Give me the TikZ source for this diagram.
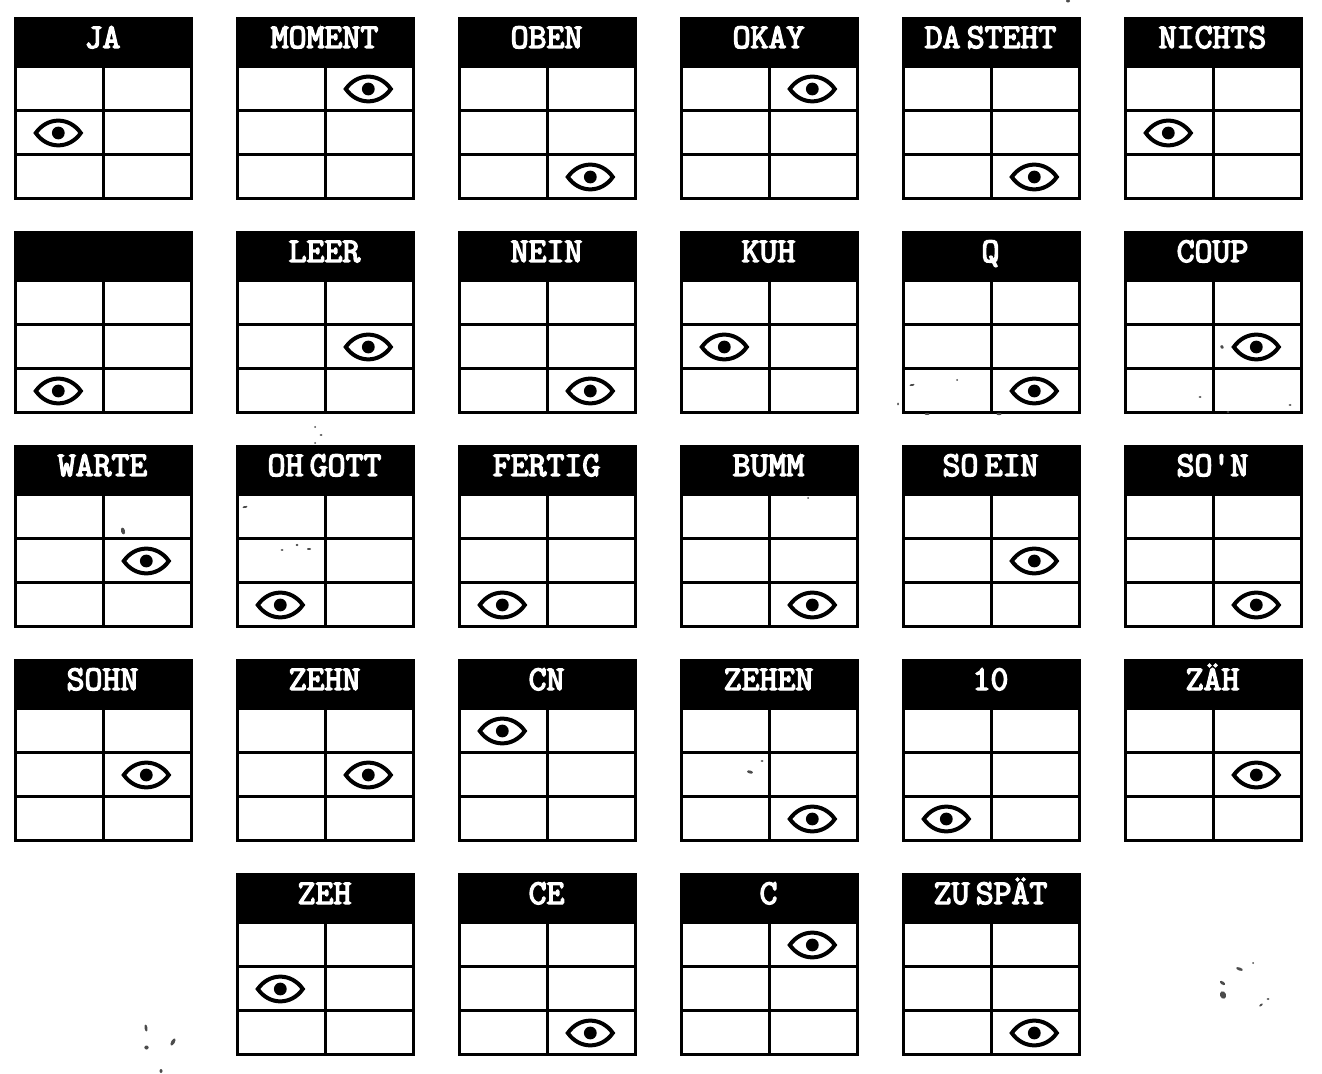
\documentclass[tikz,border=0pt]{standalone}
\usepackage{fontspec}
\newfontfamily\stampfont[FakeBold=4,WordSpace=0.35]{Latin Modern Mono}
\tikzset{
	gridline/.style={line width=1.5pt,draw=black},
	headbox/.style={fill=black,draw=none},
	headtext/.style={text=white,font=\stampfont\fontsize{17.4}{18}\selectfont,anchor=base,inner sep=0pt},
	speck/.style={fill=black!70},
	pics/eyemark/.style={code={
		\draw[line width=2pt] (-22.5,0) .. controls (-11,-16.5) and (11,-16.5) .. (22.5,0) .. controls (11,16.5) and (-11,16.5) .. (-22.5,0) -- cycle;
		\fill (0,0) circle (6.4);
	}}
}
% one card: x, y, name, text, column and row of the eye
\newcommand{\card}[6]{
\begin{scope}[shift={(#1,#2)}]
	\fill[headbox] (0,0) rectangle (179,49.5);
	\node[headtext] (#3) at (88.5,31) {#4};
	\draw[gridline] (1.5,49.5) rectangle (177.5,181.6);
	\draw[gridline] (89.3,49.5) -- (89.3,181.6);
	\draw[gridline] (1.5,93.3) -- (177.5,93.3);
	\draw[gridline] (1.5,137.7) -- (177.5,137.7);
	\pic at ({44.3+88*#5},{72+44*#6}) {eyemark};
\end{scope}
}
\begin{document}
\begin{tikzpicture}[x=0.5pt,y=-0.5pt]
\useasboundingbox (0,0) rectangle (1322,1074);

\card{14}{17}{ja}{JA}{0}{1}
\card{236}{17}{moment}{MOMENT}{1}{0}
\card{458}{17}{oben}{OBEN}{1}{2}
\card{680}{17}{okay}{OKAY}{1}{0}
\card{902}{17}{dasteht}{DA STEHT}{1}{2}
\card{1124}{17}{nichts}{NICHTS}{0}{1}

\card{14}{231}{blank}{}{0}{2}
\card{236}{231}{leer}{LEER}{1}{1}
\card{458}{231}{nein}{NEIN}{1}{2}
\card{680}{231}{kuh}{KUH}{0}{1}
\card{902}{231}{q}{Q}{1}{2}
\card{1124}{231}{coup}{COUP}{1}{1}

\card{14}{445}{warte}{WARTE}{1}{1}
\card{236}{445}{ohgott}{OH GOTT}{0}{2}
\card{458}{445}{fertig}{FERTIG}{0}{2}
\card{680}{445}{bumm}{BUMM}{1}{2}
\card{902}{445}{soein}{SO EIN}{1}{1}
\card{1124}{445}{son}{SO'N}{1}{2}

\card{14}{659}{sohn}{SOHN}{1}{1}
\card{236}{659}{zehn}{ZEHN}{1}{1}
\card{458}{659}{cn}{CN}{0}{0}
\card{680}{659}{zehen}{ZEHEN}{1}{2}
\card{902}{659}{ten}{10}{0}{2}
\card{1124}{659}{zaeh}{ZÄH}{1}{1}

\card{236}{873}{zeh}{ZEH}{0}{1}
\card{458}{873}{ce}{CE}{1}{2}
\card{680}{873}{c}{C}{1}{0}
\card{902}{873}{zuspaet}{ZU SPÄT}{1}{2}

% dust
\foreach \x/\y/\a/\b/\t in {1068/1/2/1.5/0,146/1028/1.5/3.5/10,173/1042/1.8/4/-30,146.5/1047.5/2.2/2/0,161/1071/1.5/2/0,
	1239.5/969/3.5/1.5/-20,1222.5/983/3/1.5/-35,1223/995/3/3.8/20,1268/999/1.5/1/0,1261/1005/2/1/40,1253/963/1/1/0,
	123/531/2/3.5/15,750/772/3/1.5/-15,762/761/1.5/1/0,245/507/2.5/1/10,282/550/1.5/1/0,297/545/1.5/1.2/0,309/549/2/1/0,
	315/427/1/1/0,321/435/1.5/1/0,315/443/1/1/0,912/385/2.5/1/10,957/380/1/1/0,927/414/2.5/1/0,999/414/2.5/1.2/0,898/404/1/1.5/0,
	1222/347/1.5/2/30,1200/397/1.5/1/0,1228/412/1.5/1/0,1290/405/1.5/1/0,808/498/1/1/0}
	\fill[speck,rotate around={\t:(\x,\y)}] (\x,\y) ellipse [x radius=\a,y radius=\b];

\end{tikzpicture}
\end{document}
